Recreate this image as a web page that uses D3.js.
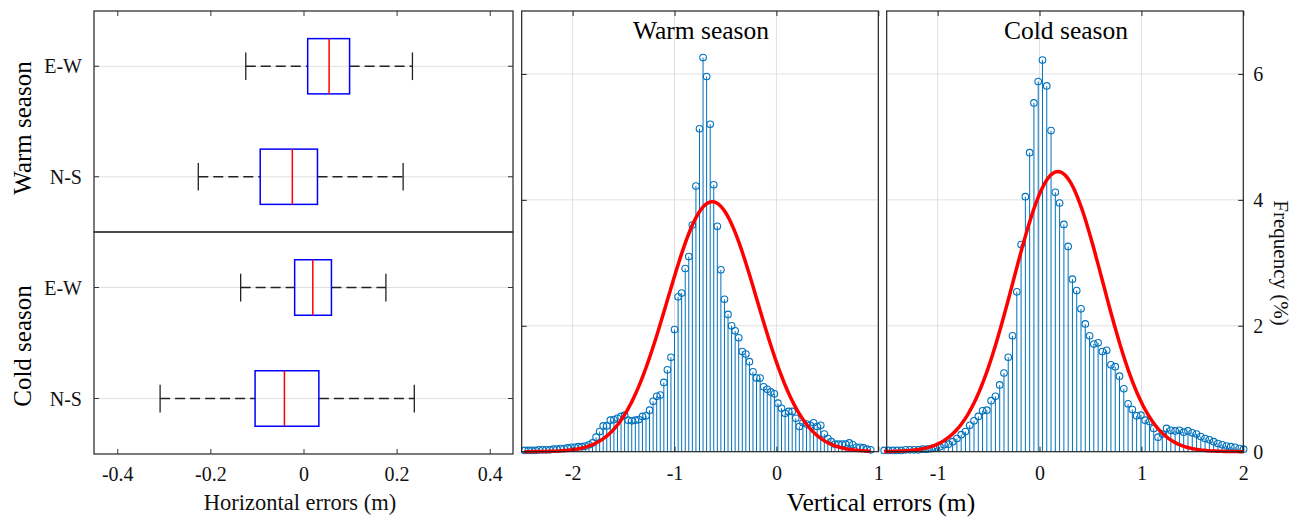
<!DOCTYPE html>
<meta charset="utf-8">
<style>
body { margin: 0; background: #fff; }
svg { font-family: "Liberation Serif", "Times New Roman", serif; }
</style>
<body>
<script src="https://d3js.org/d3.v7.min.js"></script>
<script>

var width = 1299, height = 517;

// ---- horizontal errors: box plot stats [low whisker, q1, median, q3, high whisker]
var seasons = ["Warm season", "Cold season"];
var components = ["E-W", "N-S"];
var warmBox = [[-0.124, 0.009, 0.055, 0.099, 0.234], [-0.226, -0.093, -0.024, 0.030, 0.214]];
var coldBox = [[-0.135, -0.019, 0.020, 0.060, 0.177], [-0.308, -0.104, -0.041, 0.033, 0.238]];
var hTicks = [-0.4, -0.2, 0, 0.2, 0.4];

// ---- vertical errors: histogram frequencies (%)
var warmStart = -2.47, warmBin = 0.035;
var warmFreq = [0.02, 0.02, 0.02, 0.02, 0.03, 0.03, 0.03, 0.03, 0.04, 0.04,
  0.05, 0.05, 0.06, 0.07, 0.07, 0.08, 0.08, 0.09, 0.11, 0.14,
  0.23, 0.32, 0.41, 0.41, 0.50, 0.51, 0.53, 0.56, 0.58, 0.50,
  0.49, 0.50, 0.51, 0.56, 0.57, 0.66, 0.80, 0.88, 0.90, 1.10,
  1.30, 1.50, 1.94, 2.46, 2.52, 2.91, 3.10, 3.60, 4.22, 5.13,
  6.26, 5.96, 5.20, 4.24, 3.58, 2.89, 2.42, 2.18, 2.00, 1.92,
  1.81, 1.59, 1.55, 1.43, 1.27, 1.17, 1.17, 1.03, 0.99, 0.95,
  0.92, 0.77, 0.69, 0.61, 0.64, 0.64, 0.53, 0.40, 0.46, 0.44,
  0.42, 0.46, 0.40, 0.42, 0.28, 0.21, 0.16, 0.12, 0.12, 0.12,
  0.12, 0.14, 0.11, 0.07, 0.07, 0.06, 0.04, 0.03];
var coldStart = -1.525, coldBin = 0.042;
var coldFreq = [0.02, 0.02, 0.02, 0.02, 0.02, 0.03, 0.03, 0.03, 0.03, 0.04,
  0.04, 0.05, 0.06, 0.08, 0.11, 0.12, 0.16, 0.21, 0.27, 0.32,
  0.42, 0.49, 0.56, 0.65, 0.66, 0.81, 0.88, 1.06, 1.25, 1.50,
  1.84, 2.54, 3.29, 4.05, 4.75, 5.54, 5.88, 6.22, 5.81, 5.10,
  4.12, 3.95, 3.61, 3.26, 2.74, 2.56, 2.27, 2.03, 1.84, 1.71,
  1.73, 1.59, 1.61, 1.38, 1.35, 1.20, 1.00, 0.76, 0.67, 0.57,
  0.58, 0.50, 0.48, 0.37, 0.23, 0.28, 0.37, 0.34, 0.33, 0.34,
  0.31, 0.33, 0.30, 0.28, 0.24, 0.21, 0.19, 0.16, 0.13, 0.11,
  0.09, 0.08, 0.07, 0.05, 0.04];
var warmTicks = [-2, -1, 0, 1];
var coldTicks = [-1, 0, 1, 2];
var freqTicks = [0, 2, 4, 6];

// fitted normal curves [warm, cold]
var fitMean = [-0.63, 0.18];
var fitSd = [0.44, 0.44];
var fitPeak = [3.97, 4.45];

var gridColor = "#e0e0e0";
var stemColor = "#0072BD";
var serif = "Liberation Serif";

var svg = d3.select("body").append("svg")
    .attr("width", width)
    .attr("height", height);

// ================= left: box plots =================
var hx = d3.scaleLinear().domain([-0.45, 0.45]).range([94, 513]);

var boxPanels = [
  {name: seasons[0], stats: warmBox, top: 11, bottom: 232, labelY: 128},
  {name: seasons[1], stats: coldBox, top: 232, bottom: 454, labelY: 346}
];

boxPanels.forEach(function(p, pi) {
  var y = d3.scalePoint().domain(components).range([p.top, p.bottom]).padding(0.5);
  var g = svg.append("g");

  g.selectAll(".grid").data(components).enter().append("line")
      .attr("x1", 94).attr("x2", 513)
      .attr("y1", d => y(d)).attr("y2", d => y(d))
      .attr("stroke", gridColor).attr("stroke-width", 1);

  // category ticks on both sides
  g.selectAll(".ltick").data(components).enter().append("line")
      .attr("x1", 94).attr("x2", 99)
      .attr("y1", d => y(d)).attr("y2", d => y(d))
      .attr("stroke", "#333");
  g.selectAll(".rtick").data(components).enter().append("line")
      .attr("x1", 508).attr("x2", 513)
      .attr("y1", d => y(d)).attr("y2", d => y(d))
      .attr("stroke", "#333");

  var half = y.step() * 0.25, cap = y.step() * 0.125;

  var b = g.selectAll(".box").data(p.stats).enter().append("g")
      .attr("transform", (d, i) => `translate(0, ${y(components[i])})`);

  b.append("line").attr("x1", d => hx(d[0])).attr("x2", d => hx(d[1]))
      .attr("stroke", "#222").attr("stroke-width", 1.3).attr("stroke-dasharray", "10,5");
  b.append("line").attr("x1", d => hx(d[3])).attr("x2", d => hx(d[4]))
      .attr("stroke", "#222").attr("stroke-width", 1.3).attr("stroke-dasharray", "10,5");
  b.append("line").attr("x1", d => hx(d[0])).attr("x2", d => hx(d[0]))
      .attr("y1", -cap).attr("y2", cap).attr("stroke", "#222").attr("stroke-width", 1.3);
  b.append("line").attr("x1", d => hx(d[4])).attr("x2", d => hx(d[4]))
      .attr("y1", -cap).attr("y2", cap).attr("stroke", "#222").attr("stroke-width", 1.3);
  b.append("rect")
      .attr("x", d => hx(d[1])).attr("width", d => hx(d[3]) - hx(d[1]))
      .attr("y", -half).attr("height", 2 * half)
      .attr("fill", "none").attr("stroke", "#0000ff").attr("stroke-width", 1.5);
  b.append("line").attr("x1", d => hx(d[2])).attr("x2", d => hx(d[2]))
      .attr("y1", -half).attr("y2", half).attr("stroke", "#ff0000").attr("stroke-width", 1.5);

  g.selectAll(".cat").data(components).enter().append("text")
      .attr("x", 82).attr("y", d => y(d)).attr("dy", "0.36em")
      .attr("text-anchor", "end").style("font-size", "20px").attr("fill", "#111")
      .text(d => d);

  g.append("text")
      .attr("transform", `translate(31, ${p.labelY}) rotate(-90)`)
      .attr("text-anchor", "middle").style("font-size", "25px").attr("fill", "#000")
      .text(p.name);

  g.append("rect").attr("x", 94).attr("y", p.top)
      .attr("width", 513 - 94).attr("height", p.bottom - p.top)
      .attr("fill", "none").attr("stroke", "#333").attr("stroke-width", 1.3);

  if (pi === 0) {
    g.append("g").attr("transform", `translate(0, ${p.top})`)
        .call(d3.axisTop(hx).tickValues(hTicks).tickSizeInner(-5).tickSizeOuter(0).tickFormat(""))
        .call(a => a.select(".domain").remove())
        .selectAll("line").attr("stroke", "#333");
  } else {
    g.append("g").attr("transform", `translate(0, ${p.bottom})`)
        .call(d3.axisBottom(hx).tickValues(hTicks).tickSizeInner(-5).tickSizeOuter(0)
          .tickPadding(13).tickFormat(String))
        .call(a => a.select(".domain").remove())
        .call(a => a.selectAll("line").attr("stroke", "#333"))
        .selectAll("text")
          .style("font-family", serif).style("font-size", "20px").attr("fill", "#111");
  }
});

svg.append("text")
    .attr("x", 300).attr("y", 510)
    .attr("text-anchor", "middle").style("font-size", "22.5px").attr("fill", "#111")
    .text("Horizontal errors (m)");

// ================= right: histograms =================
var vy = d3.scaleLinear().domain([0, 7]).range([451.7, 11]);

var hists = [
  {title: "Warm season", start: warmStart, bin: warmBin, freq: warmFreq, ticks: warmTicks,
   domain: [-2.5, 1], left: 521.7, right: 878.3, fit: 0, side: "left"},
  {title: "Cold season", start: coldStart, bin: coldBin, freq: coldFreq, ticks: coldTicks,
   domain: [-1.5, 2], left: 886.7, right: 1243.3, fit: 1, side: "right"}
];

hists.forEach(function(h) {
  var x = d3.scaleLinear().domain(h.domain).range([h.left, h.right]);
  var g = svg.append("g");

  // grid
  g.selectAll(".gx").data(h.ticks.filter(t => t > h.domain[0] && t < h.domain[1])).enter()
    .append("line")
      .attr("x1", d => x(d)).attr("x2", d => x(d))
      .attr("y1", vy(7)).attr("y2", vy(0))
      .attr("stroke", gridColor);
  g.selectAll(".gy").data(freqTicks.filter(t => t > 0)).enter()
    .append("line")
      .attr("x1", h.left).attr("x2", h.right)
      .attr("y1", d => vy(d)).attr("y2", d => vy(d))
      .attr("stroke", gridColor);

  var pts = h.freq.map((f, i) => ({x: h.start + i * h.bin, f: f}));

  g.selectAll(".stem").data(pts).enter().append("line")
      .attr("x1", d => x(d.x)).attr("x2", d => x(d.x))
      .attr("y1", vy(0)).attr("y2", d => vy(d.f))
      .attr("stroke", stemColor).attr("stroke-width", 1);

  g.selectAll(".dot").data(pts).enter().append("circle")
      .attr("cx", d => x(d.x)).attr("cy", d => vy(d.f))
      .attr("r", 3.3)
      .attr("fill", "none").attr("stroke", stemColor).attr("stroke-width", 1.1);

  // fitted normal curve
  var m = fitMean[h.fit], s = fitSd[h.fit], pk = fitPeak[h.fit];
  var x0 = pts[0].x, x1 = pts[pts.length - 1].x;
  var curve = d3.range(0, 201).map(k => {
    var xv = x0 + (x1 - x0) * k / 200;
    return [xv, pk * Math.exp(-(xv - m) * (xv - m) / (2 * s * s))];
  });
  g.append("path")
      .attr("d", d3.line().x(d => x(d[0])).y(d => vy(d[1]))(curve))
      .attr("fill", "none").attr("stroke", "#ff0000").attr("stroke-width", 3.5);

  g.append("rect").attr("x", h.left).attr("y", vy(7))
      .attr("width", h.right - h.left).attr("height", vy(0) - vy(7))
      .attr("fill", "none").attr("stroke", "#222").attr("stroke-width", 1.2);

  // x ticks top and bottom
  g.append("g").attr("transform", `translate(0, ${vy(7)})`)
      .call(d3.axisTop(x).tickValues(h.ticks).tickSizeInner(-5).tickSizeOuter(0).tickFormat(""))
      .call(a => a.select(".domain").remove())
      .selectAll("line").attr("stroke", "#222");
  g.append("g").attr("transform", `translate(0, ${vy(0)})`)
      .call(d3.axisBottom(x).tickValues(h.ticks).tickSizeInner(-5).tickSizeOuter(0)
        .tickPadding(14).tickFormat(String))
      .call(a => a.select(".domain").remove())
      .call(a => a.selectAll("line").attr("stroke", "#222"))
      .selectAll("text")
        .style("font-family", serif).style("font-size", "20px").attr("fill", "#111");

  if (h.side === "left") {
    g.append("g").attr("transform", `translate(${h.left}, 0)`)
        .call(d3.axisLeft(vy).tickValues(freqTicks).tickSizeInner(-5).tickSizeOuter(0).tickFormat(""))
        .call(a => a.select(".domain").remove())
        .selectAll("line").attr("stroke", "#222");
  } else {
    g.append("g").attr("transform", `translate(${h.right}, 0)`)
        .call(d3.axisRight(vy).tickValues(freqTicks).tickSizeInner(-5).tickSizeOuter(0)
          .tickPadding(10).tickFormat(String))
        .call(a => a.select(".domain").remove())
        .call(a => a.selectAll("line").attr("stroke", "#222"))
        .selectAll("text")
          .style("font-family", serif).style("font-size", "20px").attr("fill", "#111");
  }

  g.append("text")
      .attr("x", (h.left + h.right) / 2 + 1).attr("y", 39)
      .attr("text-anchor", "middle").style("font-size", "25.5px").attr("fill", "#000")
      .text(h.title);
});

svg.append("text")
    .attr("x", 881).attr("y", 511)
    .attr("text-anchor", "middle").style("font-size", "25.5px").attr("fill", "#000")
    .text("Vertical errors (m)");

svg.append("text")
    .attr("transform", "translate(1274, 263) rotate(90)")
    .attr("text-anchor", "middle").style("font-size", "21px").attr("fill", "#111")
    .text("Frequency (%)");

</script>
